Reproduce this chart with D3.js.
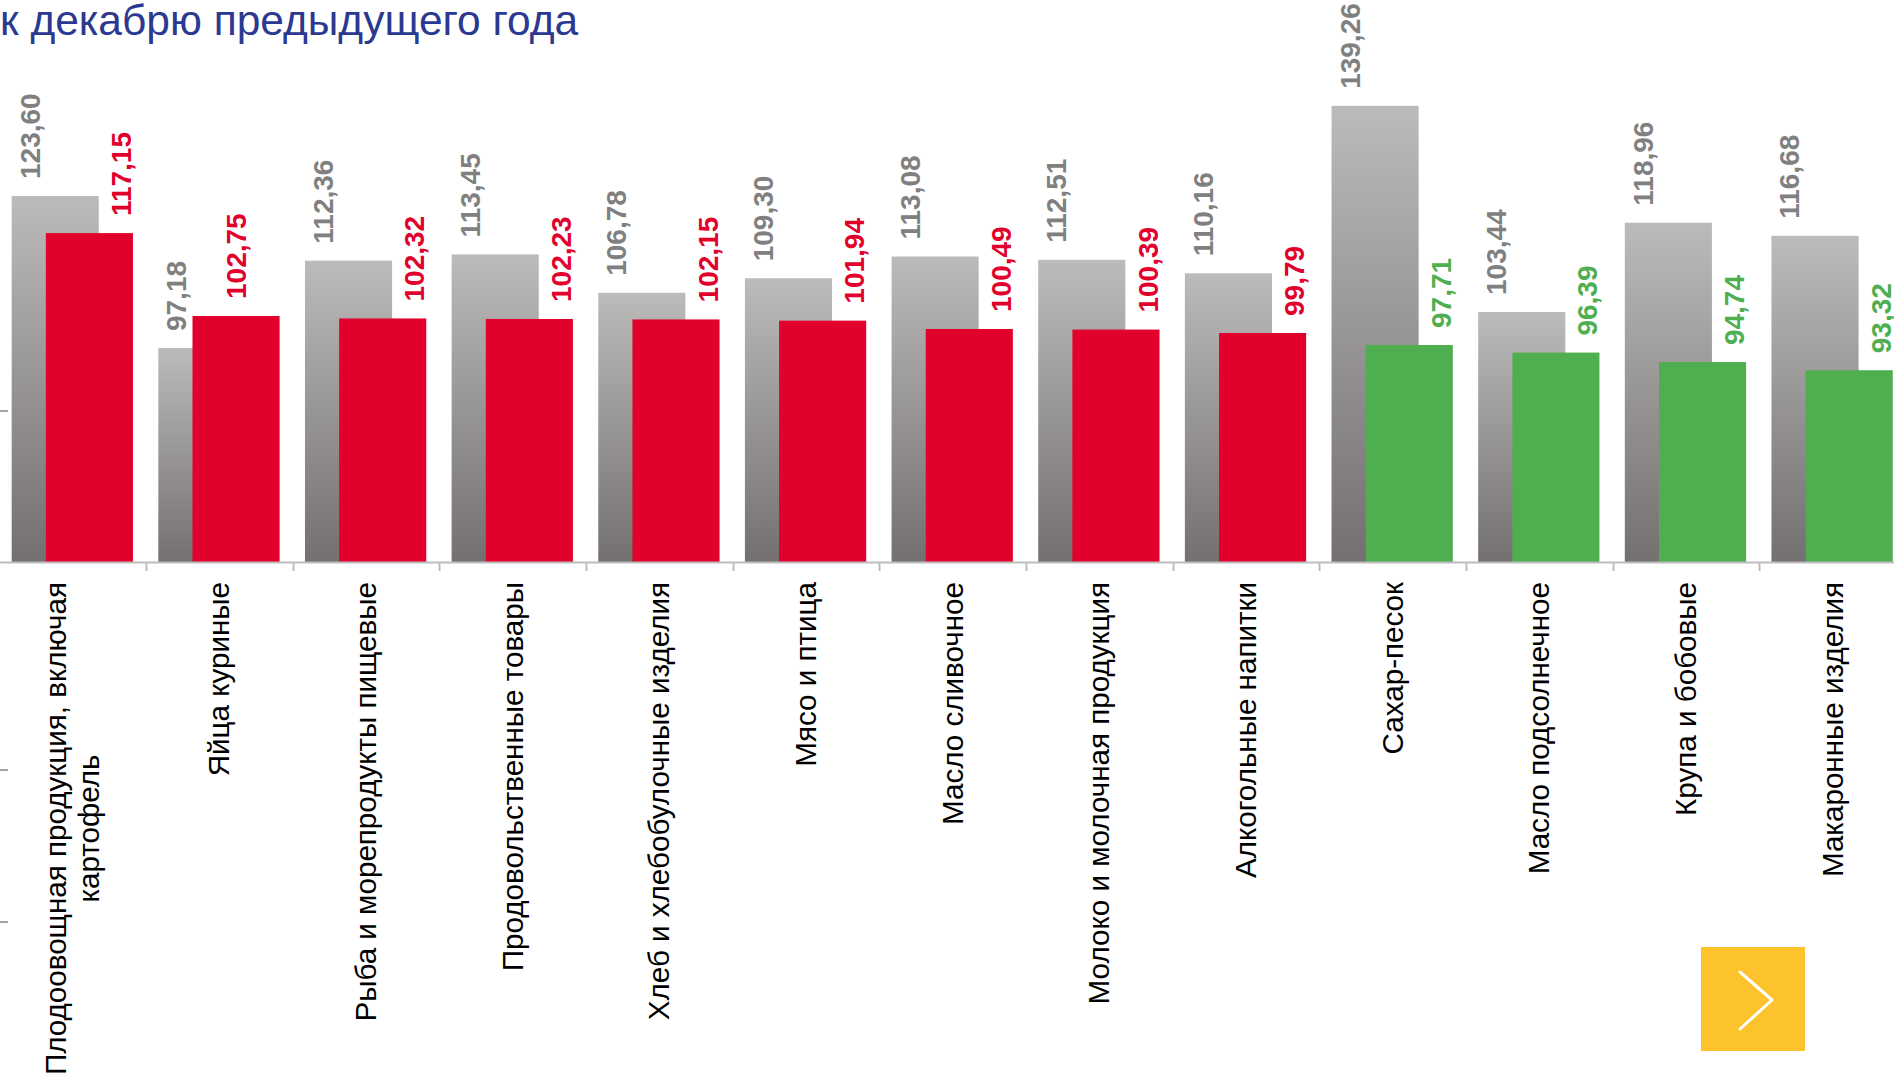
<!DOCTYPE html>
<html><head><meta charset="utf-8">
<script src="https://cdn.jsdelivr.net/npm/d3@7/dist/d3.min.js"></script>
<style>html,body{margin:0;padding:0;background:#fff;overflow:hidden}svg{display:block}</style>
</head><body>
<svg id="c" width="1894" height="1074"></svg>
<script>
const titleText = "к декабрю предыдущего года";
const categories = [
  "Плодоовощная продукция, включая картофель",
  "Яйца куриные",
  "Рыба и морепродукты пищевые",
  "Продовольственные товары",
  "Хлеб и хлебобулочные изделия",
  "Мясо и птица",
  "Масло сливочное",
  "Молоко и молочная продукция",
  "Алкогольные напитки",
  "Сахар-песок",
  "Масло подсолнечное",
  "Крупа и бобовые",
  "Макаронные изделия"
];
const previousValues = [123.60, 97.18, 112.36, 113.45, 106.78, 109.30, 113.08, 112.51, 110.16, 139.26, 103.44, 118.96, 116.68];
const currentValues  = [117.15, 102.75, 102.32, 102.23, 102.15, 101.94, 100.49, 100.39, 99.79, 97.71, 96.39, 94.74, 93.32];
const greenBelow = 99;

const W = 1894, H = 1074;
const FONT = "Liberation Sans, Arial, sans-serif";
const svg = d3.select("#c");
const baseY = 562;
const x = d3.scaleBand().domain(categories).range([-0.5, -0.5 + 13 * 146.65]).padding(0);
const y = d3.scaleLinear().domain([60, 160]).range([baseY, baseY - 100 * 5.755]);
const bw = x.bandwidth();
const fmt = v => d3.format(".2f")(v).replace(".", ",");

const defs = svg.append("defs");
const g = defs.append("linearGradient").attr("id", "greyGrad").attr("x1", 0).attr("y1", 0).attr("x2", 0).attr("y2", 1);
g.append("stop").attr("offset", 0).attr("stop-color", "#bcbbba");
g.append("stop").attr("offset", 1).attr("stop-color", "#747070");

const RED = "#e2002c", GREEN = "#4faf50", GREYTXT = "#808080";
const colorOf = v => v < greenBelow ? GREEN : RED;

// title
svg.append("text").attr("x", 0).attr("y", 35)
  .attr("font-family", FONT).attr("font-size", 42.5)
  .attr("fill", "#2b3990").text(titleText);

// left edge ticks
[411, 770, 922].forEach(ty => {
  svg.append("line").attr("x1", 0).attr("x2", 8).attr("y1", ty).attr("y2", ty)
    .attr("stroke", "#a6a6a6").attr("stroke-width", 2);
});

const data = categories.map((c, i) => ({c, p: previousValues[i], v: currentValues[i]}));

// grey bars
svg.selectAll("rect.prev").data(data).join("rect").attr("class", "prev")
  .attr("x", d => x(d.c) + 0.083 * bw).attr("width", 0.594 * bw)
  .attr("y", d => y(d.p)).attr("height", d => baseY - y(d.p))
  .attr("fill", "url(#greyGrad)");
// current bars
svg.selectAll("rect.cur").data(data).join("rect").attr("class", "cur")
  .attr("x", d => x(d.c) + 0.316 * bw).attr("width", 0.594 * bw)
  .attr("y", d => y(d.v)).attr("height", d => baseY - y(d.v))
  .attr("fill", d => colorOf(d.v));

// axis
svg.append("line").attr("x1", 0).attr("x2", W).attr("y1", baseY + 0.5).attr("y2", baseY + 0.5)
  .attr("stroke", "#bdbdbd").attr("stroke-width", 2);
categories.slice(1).forEach(c => {
  const tx = Math.round(x(c)) + 0.5;
  svg.append("line").attr("x1", tx).attr("x2", tx).attr("y1", baseY).attr("y2", baseY + 9)
    .attr("stroke", "#bdbdbd").attr("stroke-width", 2);
});

const gap = 17;
// value labels prev
svg.selectAll("text.pl").data(data).join("text").attr("class", "pl")
  .attr("transform", d => `translate(${x(d.c) + 0.083 * bw + 28},${y(d.p) - gap}) rotate(-90)`)
  .attr("font-family", FONT).attr("font-size", 28).attr("font-weight", "bold")
  .attr("fill", GREYTXT).text(d => fmt(d.p));
// value labels current
svg.selectAll("text.cl").data(data).join("text").attr("class", "cl")
  .attr("transform", d => {
    const left = x(d.c) + 0.316 * bw;
    const cx = d.p < d.v ? left + 0.297 * bw + 10 : left + 0.594 * bw - 2;
    return `translate(${cx},${y(d.v) - gap}) rotate(-90)`;
  })
  .attr("font-family", FONT).attr("font-size", 28).attr("font-weight", "bold")
  .attr("fill", d => colorOf(d.v)).text(d => fmt(d.v));

// category labels
const catSize = 29.6, maxW = 540, lineH = 33, topY = 582;
const probe = svg.append("text").attr("font-family", FONT).attr("font-size", catSize);
const len = s => { probe.text(s); return probe.node().getComputedTextLength(); };
categories.forEach(c => {
  const words = c.split(" ");
  const lines = [];
  let cur = "";
  words.forEach(w => {
    const test = cur ? cur + " " + w : w;
    if (len(test) > maxW && cur) { lines.push(cur); cur = w; } else cur = test;
  });
  lines.push(cur);
  const maxLen = d3.max(lines, len);
  const cx = x(c) + bw / 2;
  const n = lines.length;
  const cy = topY + maxLen / 2;
  const t = svg.append("text").attr("font-family", FONT).attr("font-size", catSize)
    .attr("fill", "#000").attr("text-anchor", "middle")
    .attr("transform", `translate(${cx},${cy}) rotate(-90)`);
  lines.forEach((ln, i) => {
    t.append("tspan").attr("x", 0).attr("y", (i - (n - 1) / 2) * lineH + 10).text(ln);
  });
});
probe.remove();

// yellow next button
svg.append("rect").attr("x", 1701).attr("y", 947).attr("width", 104).attr("height", 104).attr("fill", "#fdc32d");
svg.append("path").attr("d", "M1740,972 L1772,1000 L1740,1029")
  .attr("fill", "none").attr("stroke", "#fff").attr("stroke-width", 3)
  .attr("stroke-linecap", "round").attr("stroke-linejoin", "round");
</script>
</body></html>
